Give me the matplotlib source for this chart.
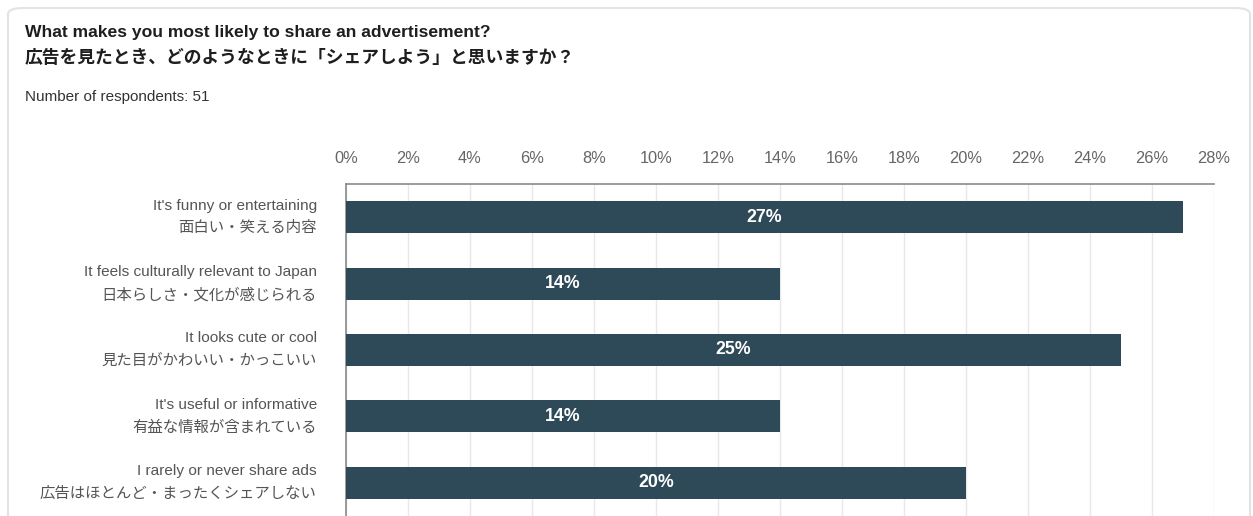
import matplotlib
matplotlib.use("Agg")
import matplotlib.pyplot as plt
import matplotlib.transforms as mtransforms
from matplotlib.patches import FancyBboxPatch
from matplotlib.ticker import FuncFormatter, MultipleLocator

plt.rcParams["font.family"] = ["Liberation Sans", "Noto Sans CJK JP", "DejaVu Sans"]

TITLE_EN = "What makes you most likely to share an advertisement?"
TITLE_JA = "広告を見たとき、どのようなときに「シェアしよう」と思いますか？"
SUBTITLE = "Number of respondents: 51"

LABELS_EN = [
    "It's funny or entertaining",
    "It feels culturally relevant to Japan",
    "It looks cute or cool",
    "It's useful or informative",
    "I rarely or never share ads",
]
LABELS_JA = [
    "面白い・笑える内容",
    "日本らしさ・文化が感じられる",
    "見た目がかわいい・かっこいい",
    "有益な情報が含まれている",
    "広告はほとんど・まったくシェアしない",
]
SHARES = [27, 14, 25, 14, 20]

BAR_COLOR = "#2e4a58"
TEXT_GREY = "#555555"
W, H = 1253, 516

fig = plt.figure(figsize=(W / 100, H / 100), dpi=100)
fig.patch.set_facecolor("white")

# card outline, kept behind the axes
card = FancyBboxPatch((8 / W, -30 / H), 1242 / W, (H - 8 + 30) / H,
                      boxstyle="round,pad=0,rounding_size=0.012",
                      transform=fig.transFigure, facecolor="white",
                      edgecolor="#e3e3e3", linewidth=1.5, zorder=-10)
fig.add_artist(card)

fig.text(25 / W, 1 - 32 / H, TITLE_EN, fontsize=12.6, fontweight="bold",
         color="#1e1e1e", va="center", ha="left")
fig.text(25 / W, 1 - 58 / H, TITLE_JA, fontsize=12.8, fontweight="bold",
         color="#1e1e1e", va="center", ha="left",
         family=["Noto Sans CJK JP", "Liberation Sans"])
fig.text(25 / W, 1 - 97 / H, SUBTITLE, fontsize=11, color="#333333",
         va="center", ha="left")

ax = fig.add_axes([346 / W, 0, (1214 - 346) / W, (H - 184) / H], zorder=1)
ax.set_facecolor("none")
y = list(range(len(SHARES)))
ax.barh(y, SHARES, height=0.48, color=BAR_COLOR, zorder=3)
for yi, v in zip(y, SHARES):
    ax.text(v / 2, yi, f"{v}%", color="white", fontsize=12.8,
            fontweight="bold", ha="center", va="center", zorder=4)

ax.set_xlim(0, 28)
ax.set_ylim(len(SHARES) - 0.5, -0.5)
ax.xaxis.set_major_locator(MultipleLocator(2))
ax.xaxis.set_major_formatter(FuncFormatter(lambda v, _: f"{v:.0f}%"))
ax.xaxis.tick_top()
ax.tick_params(axis="x", length=0, pad=13, labelsize=11.8, labelcolor="#666666")
ax.set_yticks(y)
ax.set_yticklabels([f"{en}\n{ja}" for en, ja in zip(LABELS_EN, LABELS_JA)],
                   fontsize=11.1, color=TEXT_GREY, linespacing=1.78,
                   ha="right")
ax.tick_params(axis="y", length=0, pad=21)
# two-line labels sit centred on their bars
lift = mtransforms.ScaledTranslation(0, 6 / 100, fig.dpi_scale_trans)
for lbl in ax.get_yticklabels():
    lbl.set_transform(lbl.get_transform() + lift)
ax.grid(axis="x", color="#e8e8e8", linewidth=1, zorder=0)
for side in ("right", "bottom"):
    ax.spines[side].set_visible(False)
for side in ("top", "left"):
    ax.spines[side].set_color("#8a8a8a")
    ax.spines[side].set_linewidth(1.2)

fig.savefig("out.png", dpi=100)
